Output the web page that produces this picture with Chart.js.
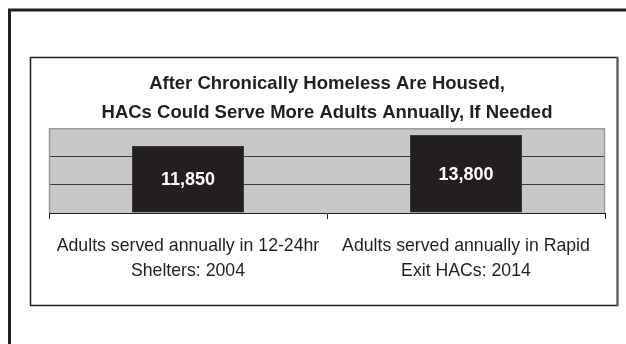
<!DOCTYPE html>
<html>
<head>
<meta charset="utf-8">
<script src="https://cdn.jsdelivr.net/npm/chart.js@4/dist/chart.umd.min.js"></script>
<style>
html,body{margin:0;padding:0;background:#fff;}
#wrap{position:relative;width:626px;height:344px;}
canvas{display:block;}
</style>
</head>
<body>
<div id="wrap"><canvas id="c" width="626" height="344"></canvas></div>
<script>
const titleLines = ["After Chronically Homeless Are Housed,", "HACs Could Serve More Adults Annually, If Needed"];
const categories = [
  ["Adults served annually in 12-24hr", "Shelters: 2004"],
  ["Adults served annually in Rapid", "Exit HACs: 2014"]
];
const adultsServed = [11850, 13800];
const valueLabels = ["11,850", "13,800"];
const yMin = 0, yMax = 15000, yStep = 5000;

const FONT = "'Liberation Sans', Arial, sans-serif";

const framePlugin = {
  id: 'frames',
  beforeDraw(chart) {
    const ctx = chart.ctx;
    ctx.save();
    ctx.fillStyle = '#ffffff';
    ctx.fillRect(0, 0, chart.width, chart.height);
    // outer frame (extends past right and bottom edges)
    ctx.strokeStyle = '#231f20';
    ctx.lineWidth = 3;
    ctx.beginPath();
    ctx.moveTo(9.5, 400);
    ctx.lineTo(9.5, 10);
    ctx.lineTo(700, 10);
    ctx.stroke();
    // inner box
    ctx.lineWidth = 1.5;
    ctx.strokeStyle = '#231f20';
    ctx.strokeRect(30.5, 57.5, 587, 248);
    ctx.strokeStyle = '#555';
    ctx.lineWidth = 2;
    ctx.beginPath();
    ctx.moveTo(617.5, 57);
    ctx.lineTo(617.5, 306);
    ctx.stroke();
    // plot area background
    const a = chart.chartArea;
    ctx.fillStyle = '#c8c8c8';
    ctx.fillRect(a.left, a.top, a.right - a.left, a.bottom - a.top);
    ctx.restore();
  },
  beforeDatasetsDraw(chart) {
    const ctx = chart.ctx;
    const a = chart.chartArea;
    ctx.save();
    ctx.strokeStyle = '#9a9a9a';
    ctx.lineWidth = 1.5;
    ctx.beginPath();
    ctx.moveTo(a.left + 0.5, a.bottom);
    ctx.lineTo(a.left + 0.5, a.top + 0.5);
    ctx.lineTo(a.right - 0.5, a.top + 0.5);
    ctx.lineTo(a.right - 0.5, a.bottom);
    ctx.stroke();
    ctx.restore();
  },
  afterDatasetsDraw(chart) {
    const ctx = chart.ctx;
    const meta = chart.getDatasetMeta(0);
    ctx.save();
    ctx.fillStyle = '#ffffff';
    ctx.font = "bold 18px " + FONT;
    ctx.textAlign = 'center';
    ctx.textBaseline = 'middle';
    meta.data.forEach((bar, i) => {
      const cy = (bar.y + bar.base) / 2;
      ctx.fillText(valueLabels[i], bar.x, cy + 1);
    });
    ctx.restore();
  }
};

new Chart(document.getElementById('c'), {
  type: 'bar',
  data: {
    labels: categories,
    datasets: [{
      data: adultsServed,
      backgroundColor: '#231f20',
      borderColor: '#3a3a3a',
      borderWidth: 1,
      barPercentage: 0.403,
      categoryPercentage: 1.0
    }]
  },
  options: {
    responsive: false,
    animation: false,
    devicePixelRatio: 1,
    layout: { padding: { left: 49, right: 21, top: 0, bottom: 0 } },
    plugins: {
      legend: { display: false },
      tooltip: { enabled: false },
      title: {
        display: true,
        text: titleLines,
        color: '#231f20',
        font: { family: FONT, size: 18.5, weight: 'bold', lineHeight: 1.6 },
        padding: { top: 69, bottom: 0 }
      }
    },
    scales: {
      x: {
        offset: true,
        grid: { display: true, drawOnChartArea: false, drawTicks: true, tickLength: 6, color: '#231f20', lineWidth: 1, offset: true },
        border: { display: true, color: '#231f20', width: 1 },
        ticks: { color: '#231f20', font: { family: FONT, size: 17.7, lineHeight: 1.45 }, padding: 14, maxRotation: 0, autoSkip: false },
        afterFit(s) { s.height = 131; }
      },
      y: {
        min: yMin, max: yMax,
        ticks: { display: false, stepSize: yStep },
        grid: {
          drawTicks: false,
          color: (c) => (c.tick && (c.tick.value === yMin || c.tick.value === yMax)) ? 'rgba(0,0,0,0)' : '#3a3a3a',
          lineWidth: 1
        },
        border: { display: false },
        afterFit(s) { s.width = 0; }
      }
    }
  },
  plugins: [framePlugin]
});
</script>
</body>
</html>
